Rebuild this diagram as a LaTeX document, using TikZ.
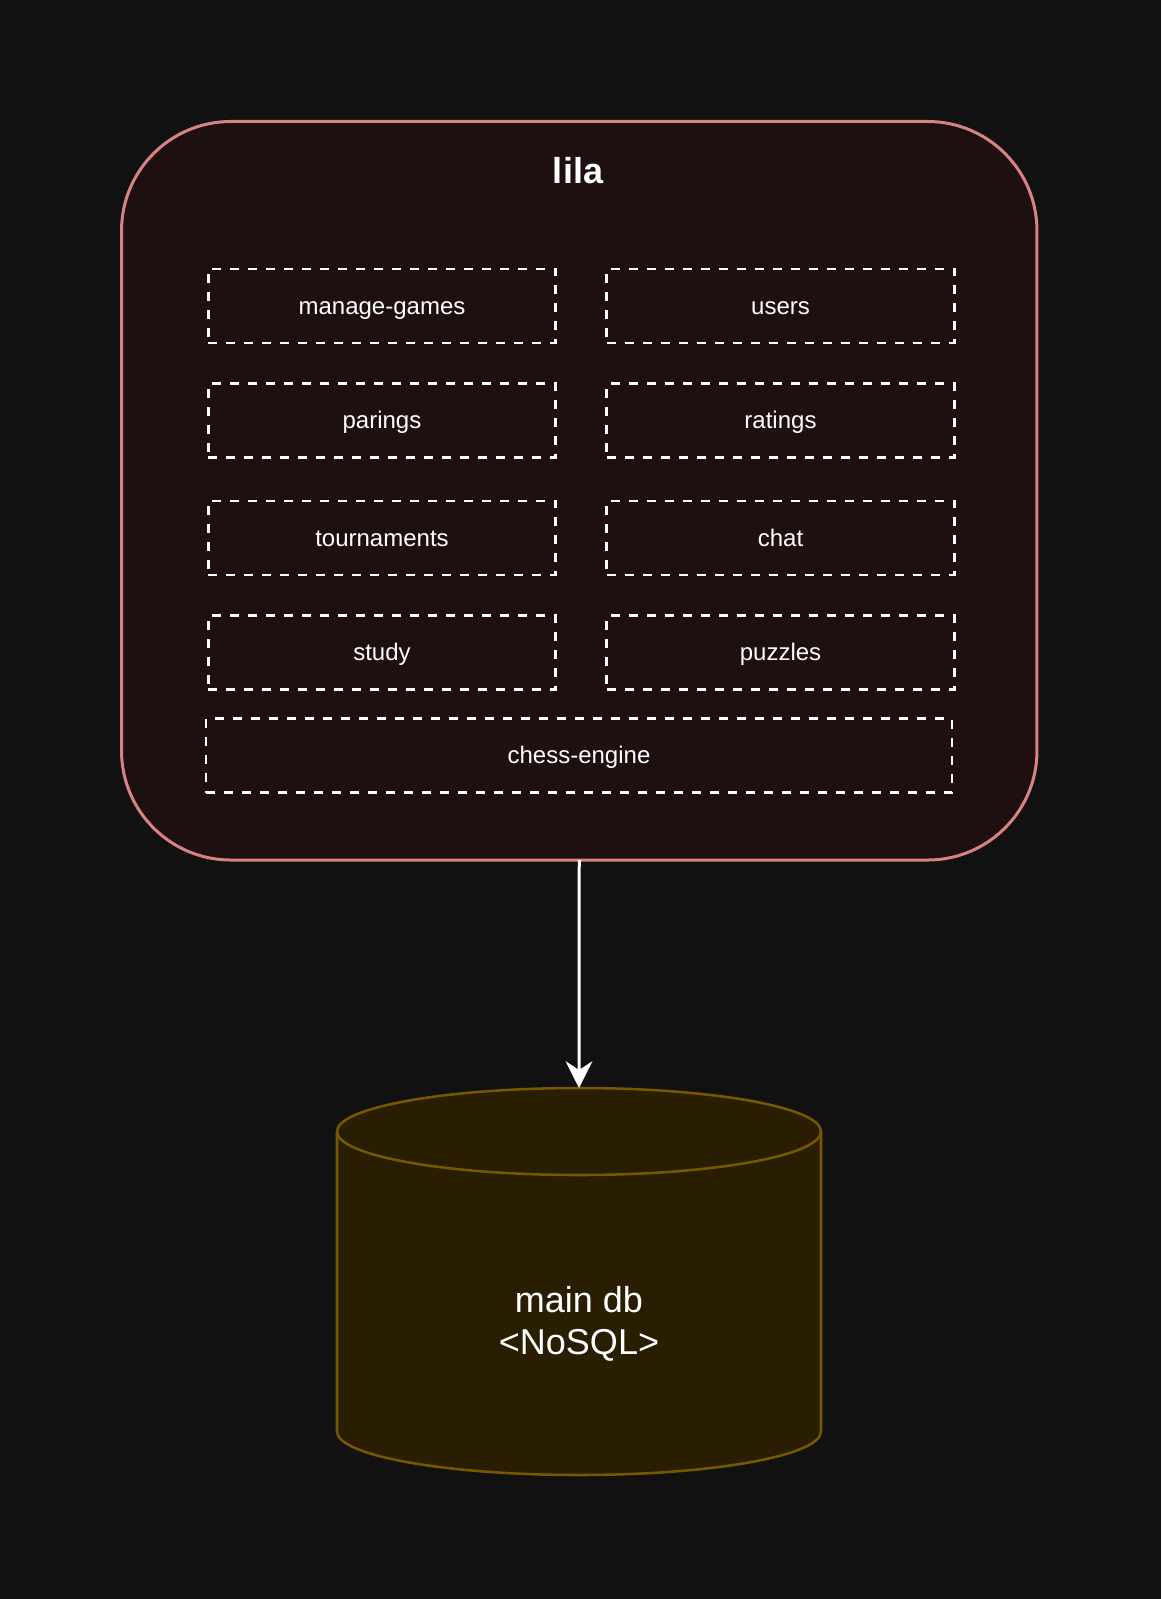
\documentclass[tikz,border=0pt]{standalone}
\usepackage{fontspec}
\setmainfont{Liberation Sans}
\usetikzlibrary{arrows.meta}
\definecolor{bg}{HTML}{111111}
\definecolor{lilafill}{HTML}{1E1010}
\definecolor{lilaline}{HTML}{D98282}
\definecolor{dbfill}{HTML}{291D02}
\definecolor{dbline}{HTML}{775800}
\begin{document}
\begin{tikzpicture}[x=0.75pt,y=-0.75pt,
  container/.style={draw=lilaline, line width=2.25pt, fill=lilafill,
    rounded corners=82pt, minimum width=686.6pt, minimum height=553.9pt,
    inner sep=0pt, outer sep=0pt},
  module/.style={draw=white, line width=2.2pt, dash pattern=on 6.75pt off 6.75pt,
    minimum width=260.5pt, minimum height=55.5pt, inner sep=0pt, text=white,
    text height=12.4pt, text depth=0pt,
    font=\fontsize{18}{21.6}\selectfont},
  dbbox/.style={minimum width=363pt, minimum height=290.25pt, inner sep=0pt, outer sep=0pt},
  dbshape/.style={fill=dbfill, draw=dbline, line width=1.9pt},
  flow/.style={draw=white, line width=2.25pt, -{Stealth[length=20pt,width=20pt,inset=6.5pt]}}
]
\useasboundingbox (0,0) rectangle (1161,1599);
\fill[bg] (0,0) rectangle (1161,1599);

% container
\node[container] (lila) at (579.25,490.75) {};
\node[anchor=base, text=white, font=\bfseries\fontsize{27}{32}\selectfont] (title) at (578,183) {lila};

% modules
\node[module] (mg)  at (382,306)   {manage-games};
\node[module] (usr) at (780.5,306) {users};
\node[module] (par) at (382,420.5) {parings};
\node[module] (rat) at (780.5,420.5) {ratings};
\node[module] (tou) at (382,538)   {tournaments};
\node[module] (cht) at (780.5,538) {chat};
\node[module] (stu) at (382,652.5) {study};
\node[module] (puz) at (780.5,652.5) {puzzles};
\node[module, minimum width=559.5pt] (eng) at (579,755.5) {chess-engine};

% database cylinder
\node[dbbox] (db) at (579,1281.5) {};
\path[dbshape] (337,1131.5) -- (337,1431.5)
  arc[start angle=180, end angle=360, x radius=181.5pt, y radius=32.625pt]
  -- (821,1131.5)
  arc[start angle=0, end angle=180, x radius=181.5pt, y radius=32.625pt] -- cycle;
\draw[dbline, line width=1.9pt] (337,1131.5)
  arc[start angle=180, end angle=360, x radius=181.5pt, y radius=32.625pt];
\node[text=white, align=center, font=\fontsize{27}{31.5}\selectfont] (dbtext) at (579,1324) {main db\\\textless{}NoSQL\textgreater{}};

% connector
\draw[flow] (lila.south) -- (db.north);
\end{tikzpicture}
\end{document}
